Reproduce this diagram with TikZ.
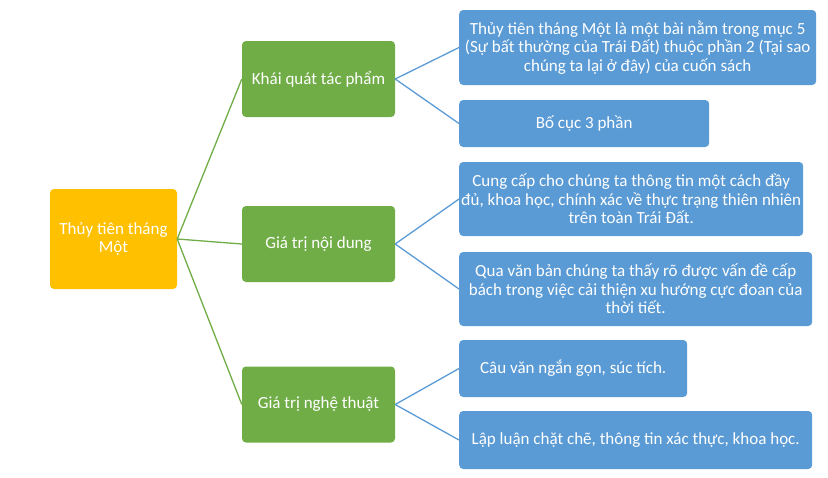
\documentclass[tikz,border=0pt]{standalone}
\usepackage{fontspec}
\setmainfont{Carlito}
\usepackage{tikz}
\usetikzlibrary{positioning}

\definecolor{rootorange}{HTML}{FFC000}
\definecolor{levelgreen}{HTML}{70AD47}
\definecolor{leafblue}{HTML}{5B9BD5}

\tikzset{
  box/.style={rectangle,rounded corners=4pt,text=white,align=center,inner sep=0pt,
    font=\fontsize{17}{18.6}\selectfont},
  rootbox/.style={box,fill=rootorange,minimum width=127pt,minimum height=100pt},
  midbox/.style={box,fill=levelgreen,minimum width=153pt,minimum height=76pt},
  leafbox/.style={box,fill=leafblue,anchor=west},
  greenline/.style={draw=levelgreen,line width=1.3pt},
  blueline/.style={draw=leafblue,line width=1.3pt}
}

\begin{document}
\begin{tikzpicture}[x=1pt,y=-1pt]
\useasboundingbox (0,0) rectangle (828,477);

\node[rootbox] (root) at (113.5,239) {Thủy tiên tháng\\Một};

\node[midbox] (kq) at (318.5,79) {Khái quát tác phẩm};
\node[midbox] (nd) at (318.5,244) {Giá trị nội dung};
\node[midbox] (nt) at (318.5,404.5) {Giá trị nghệ thuật};

\node[leafbox,minimum width=357pt,minimum height=75pt] (kq1) at (459,47.5)
  {Thủy tiên tháng Một là một bài nằm trong mục 5\\(Sự bất thường của Trái Đất) thuộc phần 2 (Tại sao\\chúng ta lại ở đây) của cuốn sách};
\node[leafbox,minimum width=250pt,minimum height=47pt] (kq2) at (459,123.5) {Bố cục 3 phần};

\node[leafbox,minimum width=344pt,minimum height=74pt] (nd1) at (459,199)
  {Cung cấp cho chúng ta thông tin một cách đầy\\đủ, khoa học, chính xác về thực trạng thiên nhiên\\trên toàn Trái Đất.};
\node[leafbox,minimum width=353pt,minimum height=74pt] (nd2) at (459,289)
  {Qua văn bản chúng ta thấy rõ được vấn đề cấp\\bách trong việc cải thiện xu hướng cực đoan của\\thời tiết.};

\node[leafbox,minimum width=228pt,minimum height=57pt] (nt1) at (459,368.5) {Câu văn ngắn gọn, súc tích.};
\node[leafbox,minimum width=353pt,minimum height=58pt] (nt2) at (459,440) {Lập luận chặt chẽ, thông tin xác thực, khoa học.};

%root to middle level
\path (root.east) edge[greenline] (kq.west);
\path (root.east) edge[greenline] (nd.west);
\path (root.east) edge[greenline] (nt.west);

%middle level to leaves
\path (kq.east) edge[blueline] (kq1.west);
\path (kq.east) edge[blueline] (kq2.west);
\path (nd.east) edge[blueline] (nd1.west);
\path (nd.east) edge[blueline] (nd2.west);
\path (nt.east) edge[blueline] (nt1.west);
\path (nt.east) edge[blueline] (nt2.west);

\end{tikzpicture}
\end{document}
